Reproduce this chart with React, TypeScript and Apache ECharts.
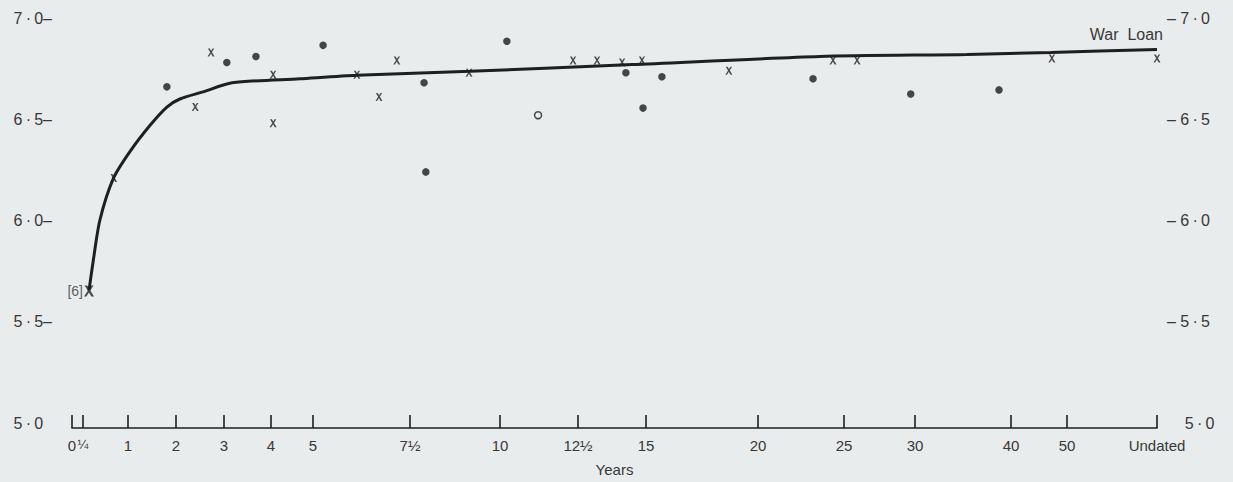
import React, { useEffect, useRef } from "react";
import * as echarts from "echarts";

// Horizontal scale of the original: maturity (years) -> scale position
const scaleYears = [0, 0.25, 1, 2, 3, 4, 5, 7.5, 10, 12.5, 15, 20, 25, 30, 40, 50, 60];
const scalePos = [0, 11, 56, 104, 152, 199, 241, 338, 428, 506, 574, 686, 772, 843, 939, 995, 1085];
const tickLabels = ["0", "{s|¼}", "1", "2", "3", "4", "5", "7½", "10", "12½", "15", "20", "25", "30", "40", "50", "Undated"];
const UNDATED = 60;

// Yield curve (years, yield %)
const curveYears = [0.35, 0.42, 0.53, 0.76, 1.04, 1.46, 1.81, 2.08, 2.56, 3.17, 4.69, 6.13, 9.17, 14.5, 23.6, 35.4, 47.1, UNDATED];
const curveYield = [5.655, 5.8, 6.0, 6.21, 6.34, 6.47, 6.56, 6.6, 6.635, 6.68, 6.7, 6.717, 6.737, 6.77, 6.81, 6.82, 6.83, 6.845];

// Crosses
const crossYears = [0.76, 2.4, 2.73, 4.05, 4.05, 6.13, 6.7, 7.16, 9.14, 12.34, 13.2, 14.12, 14.85, 18.7, 24.36, 25.92, 47.3, UNDATED];
const crossYield = [6.21, 6.56, 6.83, 6.72, 6.48, 6.72, 6.61, 6.79, 6.73, 6.79, 6.79, 6.78, 6.79, 6.74, 6.79, 6.79, 6.8, 6.8];

// Bracketed point "[6]"
const billYears = [0.35];
const billYield = [5.652];

// Filled dots
const dotYears = [1.81, 3.06, 3.68, 5.26, 7.89, 7.94, 10.22, 14.26, 14.89, 15.71, 23.2, 29.7, 38.75];
const dotYield = [6.66, 6.78, 6.81, 6.865, 6.68, 6.24, 6.885, 6.73, 6.555, 6.71, 6.7, 6.625, 6.645];

// Open circle
const openYears = [11.22];
const openYield = [6.52];

const yTicks = [5, 5.5, 6, 6.5, 7];

function toPos(y: number): number {
  for (let i = 0; i < scaleYears.length - 1; i++) {
    const a = scaleYears[i], b = scaleYears[i + 1];
    if (y >= a && y <= b) {
      return scalePos[i] + ((y - a) / (b - a)) * (scalePos[i + 1] - scalePos[i]);
    }
  }
  return scalePos[scalePos.length - 1];
}

function pairs(xs: number[], ys: number[]) {
  return xs.map((x, i) => [toPos(x), ys[i]]);
}

const FONT = "Liberation Sans";
const INK = "#1f1f1f";
const TEXT = "#383838";
const BG = "#e9ecec";
const CROSS = "path://M0.8,0 L3.3,0 L9.8,10 L7.3,10 Z M7.2,0 L9.4,0 L2.4,10 L0.2,10 Z";

function fmtY(v: number) {
  return v.toFixed(1).replace(".", "\u2009·\u2009");
}

export default function App() {
  const ref = useRef<HTMLDivElement>(null);
  useEffect(() => {
    if (!ref.current) return;
    const chart = echarts.init(ref.current, null, { renderer: "svg" });
    const curveData = pairs(curveYears, curveYield);
    const last = curveData.length - 1;
    chart.setOption({
      animation: false,
      backgroundColor: BG,
      textStyle: { fontFamily: FONT },
      grid: { left: 72, right: 76, top: 18, bottom: 56 },
      xAxis: {
        type: "value",
        min: 0,
        max: scalePos[scalePos.length - 1],
        offset: 5,
        name: "Years",
        nameLocation: "middle",
        nameGap: 34,
        nameTextStyle: { fontFamily: FONT, fontSize: 15, color: TEXT },
        axisLine: { show: true, lineStyle: { color: INK, width: 1.6 } },
        axisTick: {
          show: true,
          inside: true,
          length: 13,
          customValues: scalePos,
          lineStyle: { color: INK, width: 1.6 },
        },
        axisLabel: {
          customValues: scalePos,
          showMinLabel: true,
          showMaxLabel: true,
          hideOverlap: false,
          margin: 10,
          fontFamily: FONT,
          fontSize: 15,
          color: TEXT,
          rich: { s: { fontFamily: FONT, fontSize: 13, color: TEXT } },
          formatter: (v: number) => {
            const i = scalePos.indexOf(v);
            return i >= 0 ? tickLabels[i] : "";
          },
        },
        splitLine: { show: false },
      },
      yAxis: [
        {
          type: "value",
          min: 5,
          max: 7,
          interval: 0.5,
          position: "left",
          axisLine: { show: false },
          axisTick: { show: false },
          splitLine: { show: false },
          axisLabel: {
            margin: 20,
            fontFamily: FONT,
            fontSize: 16,
            color: TEXT,
            formatter: (v: number) => (yTicks.indexOf(v) === 0 ? fmtY(v) + "  " : fmtY(v) + "–"),
          },
        },
        {
          type: "value",
          min: 5,
          max: 7,
          interval: 0.5,
          position: "right",
          axisLine: { show: false },
          axisTick: { show: false },
          splitLine: { show: false },
          axisLabel: {
            margin: 10,
            fontFamily: FONT,
            fontSize: 16,
            color: TEXT,
            formatter: (v: number) => (yTicks.indexOf(v) === 0 ? "    " + fmtY(v) : "– " + fmtY(v)),
          },
        },
      ],
      series: [
        {
          type: "line",
          name: "Yield curve",
          data: curveData.map((d, i) =>
            i === last
              ? {
                  value: d,
                  label: {
                    show: true,
                    formatter: "War  Loan",
                    position: "top",
                    align: "right",
                    offset: [6, -2],
                    fontFamily: FONT,
                    fontSize: 16,
                    color: TEXT,
                  },
                }
              : d
          ),
          smooth: 0.25,
          showSymbol: true,
          symbol: "circle",
          symbolSize: 0,
          itemStyle: { color: INK },
          lineStyle: { color: INK, width: 3 },
          z: 2,
        },
        {
          type: "scatter",
          name: "Crosses",
          data: pairs(crossYears, crossYield),
          symbol: CROSS,
          symbolSize: [7, 8],
          itemStyle: { color: "#202020" },
          z: 3,
        },
        {
          type: "scatter",
          name: "Bill",
          data: pairs(billYears, billYield),
          symbol: CROSS,
          symbolSize: [10, 11],
          itemStyle: { color: "#202020" },
          label: {
            show: true,
            formatter: "[6]",
            position: "left",
            distance: 1,
            fontFamily: FONT,
            fontSize: 14,
            color: "#333333",
          },
          z: 3,
        },
        {
          type: "scatter",
          name: "Dots",
          data: pairs(dotYears, dotYield),
          symbol: "circle",
          symbolSize: 7.5,
          itemStyle: { color: "#1c1c1c" },
          z: 3,
        },
        {
          type: "scatter",
          name: "Open",
          data: pairs(openYears, openYield),
          symbol: "circle",
          symbolSize: 7,
          itemStyle: { color: BG, borderColor: "#1c1c1c", borderWidth: 1.5 },
          z: 3,
        },
      ],
    });
    return () => chart.dispose();
  }, []);
  return <div ref={ref} style={{ position: "fixed", left: 0, top: 0, width: 1233, height: 482 }} />;
}
